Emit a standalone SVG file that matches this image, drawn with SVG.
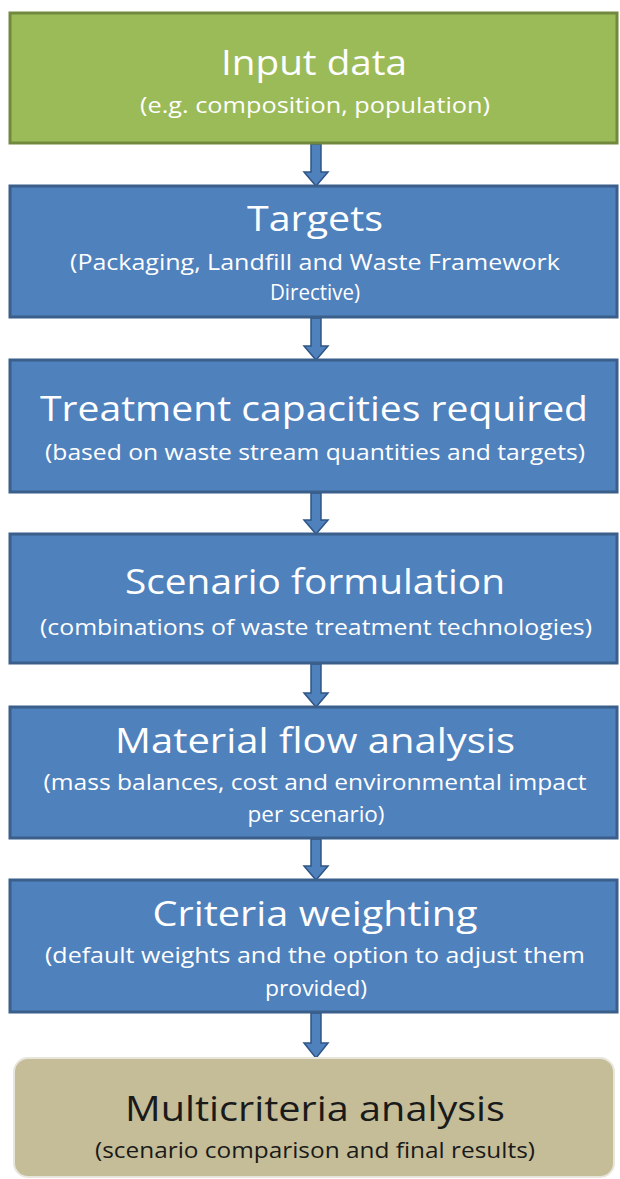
<svg xmlns="http://www.w3.org/2000/svg" width="620" height="1179" viewBox="0 0 620 1179">
<style>
.box{fill:#4f81bd;stroke:#3a5f8b;stroke-width:3}
.green{fill:#9bbb59;stroke:#71893f;stroke-width:3}
.tan{fill:#c4bd97;stroke:#e8e6dc;stroke-width:2}
.t{font-family:"Open Sans","Liberation Sans",sans-serif;fill:#ffffff;text-anchor:middle}
.big{font-size:34px}
.small{font-size:21px}
.dark{fill:#1a1a1a}
.arr{fill:#4f81bd;stroke:#2f5587;stroke-width:1.5}
</style>
<rect width="620" height="1179" fill="#ffffff"/>
<g id="connectors">
<path class="arr" d="M311,144 L321,144 L321,172 L328,172 L316,186 L304,172 L311,172 Z"/>
<path class="arr" d="M311,318 L321,318 L321,346 L328,346 L316,360 L304,346 L311,346 Z"/>
<path class="arr" d="M311,493 L321,493 L321,520 L328,520 L316,534 L304,520 L311,520 Z"/>
<path class="arr" d="M311,664 L321,664 L321,693 L328,693 L316,707 L304,693 L311,693 Z"/>
<path class="arr" d="M311,839 L321,839 L321,866 L328,866 L316,880 L304,866 L311,866 Z"/>
<path class="arr" d="M311,1013 L321,1013 L321,1043 L328,1043 L316,1058 L304,1043 L311,1043 Z"/>
</g>
<g id="input">
<rect class="green" x="10" y="13" width="607" height="130"/>
<text class="t big" x="314" y="75" textLength="186" lengthAdjust="spacingAndGlyphs">Input data</text>
<text class="t small" x="315" y="113" textLength="350" lengthAdjust="spacingAndGlyphs">(e.g. composition, population)</text>
</g>
<g id="targets">
<rect class="box" x="10" y="186" width="607" height="131"/>
<text class="t big" x="315" y="231" textLength="136" lengthAdjust="spacingAndGlyphs">Targets</text>
<text class="t small" x="315" y="270" textLength="490" lengthAdjust="spacingAndGlyphs">(Packaging, Landfill  and Waste Framework</text>
<text class="t small" x="315" y="300" textLength="90" lengthAdjust="spacingAndGlyphs">Directive)</text>
</g>
<g id="treatment">
<rect class="box" x="10" y="360" width="607" height="132"/>
<text class="t big" x="314" y="421" textLength="548" lengthAdjust="spacingAndGlyphs">Treatment capacities required</text>
<text class="t small" x="315" y="460" textLength="540" lengthAdjust="spacingAndGlyphs">(based on waste stream quantities and targets)</text>
</g>
<g id="scenario">
<rect class="box" x="10" y="534" width="607" height="129"/>
<text class="t big" x="315" y="594" textLength="380" lengthAdjust="spacingAndGlyphs">Scenario formulation</text>
<text class="t small" x="316" y="635" textLength="552" lengthAdjust="spacingAndGlyphs">(combinations of waste treatment technologies)</text>
</g>
<g id="mfa">
<rect class="box" x="10" y="707" width="607" height="131"/>
<text class="t big" x="315" y="753" textLength="400" lengthAdjust="spacingAndGlyphs">Material flow analysis</text>
<text class="t small" x="315" y="790" textLength="543" lengthAdjust="spacingAndGlyphs">(mass balances, cost and environmental impact</text>
<text class="t small" x="316" y="822" textLength="137" lengthAdjust="spacingAndGlyphs">per scenario)</text>
</g>
<g id="criteria">
<rect class="box" x="10" y="880" width="607" height="132"/>
<text class="t big" x="315" y="926" textLength="325" lengthAdjust="spacingAndGlyphs">Criteria weighting</text>
<text class="t small" x="315" y="963" textLength="540" lengthAdjust="spacingAndGlyphs">(default weights and the option to adjust them</text>
<text class="t small" x="316" y="996" textLength="102" lengthAdjust="spacingAndGlyphs">provided)</text>
</g>
<g id="mca">
<rect class="tan" x="14" y="1058" width="600" height="119" rx="14" ry="14"/>
<text class="t big dark" x="315" y="1121" textLength="380" lengthAdjust="spacingAndGlyphs">Multicriteria analysis</text>
<text class="t small dark" x="315" y="1158" textLength="440" lengthAdjust="spacingAndGlyphs">(scenario comparison and final results)</text>
</g>
</svg>
